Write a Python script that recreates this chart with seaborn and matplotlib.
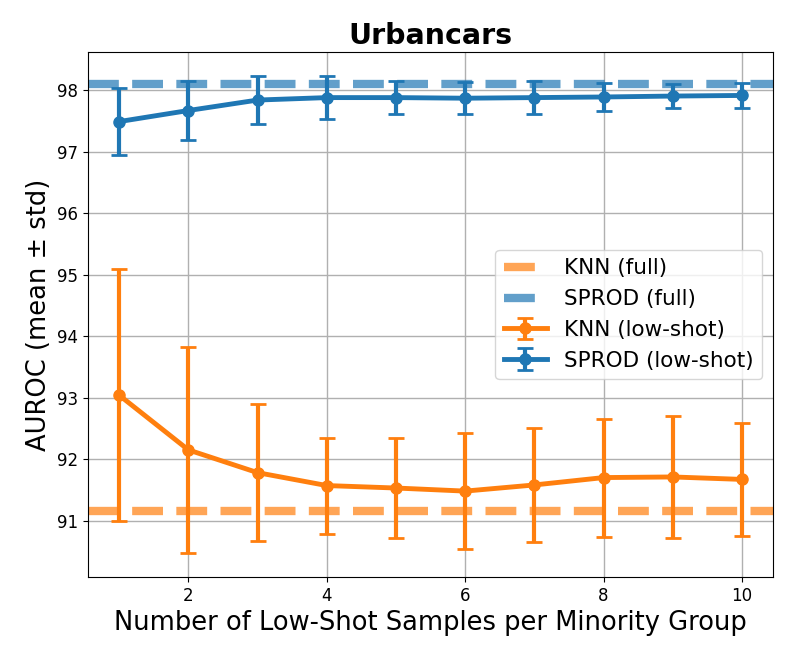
import matplotlib
matplotlib.use("Agg")
import matplotlib.pyplot as plt
import seaborn as sns

# Urbancars low-shot results
shots = [1, 2, 3, 4, 5, 6, 7, 8, 9, 10]

knn_mean = [93.04, 92.15, 91.78, 91.57, 91.53, 91.48, 91.58, 91.70, 91.71, 91.67]
knn_std = [2.05, 1.68, 1.11, 0.78, 0.82, 0.94, 0.93, 0.96, 0.99, 0.92]

sprod_mean = [97.49, 97.67, 97.84, 97.88, 97.88, 97.87, 97.88, 97.89, 97.905, 97.915]
sprod_std = [0.54, 0.485, 0.39, 0.345, 0.27, 0.26, 0.265, 0.22, 0.195, 0.20]

knn_full = 91.15
sprod_full = 98.10

palette = sns.color_palette("tab10")
blue, orange = palette[0], palette[1]

fig, ax = plt.subplots(figsize=(7.93, 6.61), dpi=100)
fig.subplots_adjust(left=0.111, right=0.975, bottom=0.127, top=0.921)

# full-data reference lines
ax.axhline(knn_full, color=orange, linestyle="--", linewidth=6, alpha=0.7, label="KNN (full)")
ax.axhline(sprod_full, color=blue, linestyle="--", linewidth=6, alpha=0.7, label="SPROD (full)")

# low-shot curves with std error bars
ax.errorbar(shots, knn_mean, yerr=knn_std, color=orange, marker="o", markersize=8,
            linewidth=3.5, elinewidth=3, capsize=6, capthick=2, label="KNN (low-shot)")
ax.errorbar(shots, sprod_mean, yerr=sprod_std, color=blue, marker="o", markersize=8,
            linewidth=3.5, elinewidth=3, capsize=6, capthick=2, label="SPROD (low-shot)")

ax.set_title("Urbancars", fontsize=20.5, fontweight="bold")
ax.set_xlabel("Number of Low-Shot Samples per Minority Group", fontsize=18.5)
ax.set_ylabel("AUROC (mean ± std)", fontsize=18.5)
ax.tick_params(labelsize=12)
ax.grid(True, linewidth=1)
ax.legend(loc="center right", fontsize=15.5)

plt.savefig("out.png", dpi=100)
